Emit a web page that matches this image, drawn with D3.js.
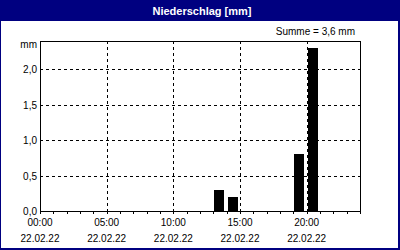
<!DOCTYPE html>
<html>
<head>
<meta charset="utf-8">
<script src="https://cdn.jsdelivr.net/npm/d3@7"></script>
<style>
  html, body { margin: 0; padding: 0; background: #fff; }
  svg { display: block; }
  text { font-family: "Liberation Sans", Arial, sans-serif; font-size: 10px; fill: #000; }
</style>
</head>
<body>
<svg id="chart" width="400" height="250"></svg>
<script>
// Data: hourly precipitation (mm), hour of day when the interval starts
const barHours = [13, 14, 19, 20];
const barValues = [0.3, 0.2, 0.8, 2.3];
const yTicks = [0, 0.5, 1.0, 1.5, 2.0];
const xTicks = [0, 5, 10, 15, 20];
const xTimeLabels = ['00:00', '05:00', '10:00', '15:00', '20:00'];
const xDateLabels = ['22.02.22', '22.02.22', '22.02.22', '22.02.22', '22.02.22'];
const minorTicks = d3.range(0, 25);
const titleText = 'Niederschlag [mm]';
const sumText = 'Summe = 3,6 mm';

const navy = '#000080';
const svg = d3.select('#chart');

// frame + title bar
svg.append('rect').attr('x', 0).attr('y', 0).attr('width', 400).attr('height', 250).attr('fill', '#fff');
svg.append('rect').attr('x', 0).attr('y', 0).attr('width', 400).attr('height', 21).attr('fill', navy);
svg.append('rect').attr('x', 0).attr('y', 0).attr('width', 1).attr('height', 250).attr('fill', navy);
svg.append('rect').attr('x', 398).attr('y', 0).attr('width', 2).attr('height', 250).attr('fill', navy);
svg.append('rect').attr('x', 0).attr('y', 248).attr('width', 400).attr('height', 2).attr('fill', navy);

svg.append('text')
  .attr('x', 202).attr('y', 14.5)
  .attr('text-anchor', 'middle')
  .style('font-weight', 'bold')
  .style('font-size', '11px')
  .style('fill', '#fff')
  .text(titleText);

svg.append('text')
  .attr('x', 355).attr('y', 34.5)
  .attr('text-anchor', 'end')
  .text(sumText);

// scales
const x = d3.scaleLinear().domain([0, 24]).range([40, 360]);
const y = d3.scaleLinear().domain([0, 2.4]).range([211, 41]);

const g = svg.append('g');

// grid
g.selectAll('line.hgrid')
  .data(yTicks.filter(d => d > 0))
  .enter().append('line')
  .attr('x1', x(0)).attr('x2', x(24))
  .attr('y1', d => Math.round(y(d)) + 0.5).attr('y2', d => Math.round(y(d)) + 0.5)
  .attr('stroke', '#000').attr('stroke-dasharray', '3,3');

g.selectAll('line.vgrid')
  .data(xTicks.filter(d => d > 0))
  .enter().append('line')
  .attr('x1', d => Math.round(x(d)) + 0.5).attr('x2', d => Math.round(x(d)) + 0.5)
  .attr('y1', y(2.4)).attr('y2', y(0))
  .attr('stroke', '#000').attr('stroke-dasharray', '3,3');

// bars
g.selectAll('rect.bar')
  .data(barValues)
  .enter().append('rect')
  .attr('x', (d, i) => Math.round(x(barHours[i])) + 1)
  .attr('width', 10)
  .attr('y', d => Math.round(y(d)))
  .attr('height', d => y(0) - Math.round(y(d)))
  .attr('fill', '#000');

// plot frame
g.append('rect')
  .attr('x', x(0) + 0.5).attr('y', y(2.4) + 0.5)
  .attr('width', x(24) - x(0)).attr('height', y(0) - y(2.4))
  .attr('fill', 'none').attr('stroke', '#000');

// minor ticks on x axis
g.selectAll('line.mtick')
  .data(minorTicks)
  .enter().append('line')
  .attr('x1', d => Math.round(x(d)) + 0.5).attr('x2', d => Math.round(x(d)) + 0.5)
  .attr('y1', 211).attr('y2', 214)
  .attr('stroke', '#000');

// y labels
g.selectAll('text.ylab')
  .data(yTicks)
  .enter().append('text')
  .attr('x', 37).attr('y', d => Math.round(y(d)) + 4)
  .attr('text-anchor', 'end')
  .text(d => d3.format('.1f')(d).replace('.', ','));

g.append('text').attr('x', 37).attr('y', 48).attr('text-anchor', 'end').text('mm');

// x labels
g.selectAll('text.xtime')
  .data(xTicks)
  .enter().append('text')
  .attr('x', d => x(d)).attr('y', 226)
  .attr('text-anchor', 'middle')
  .text((d, i) => xTimeLabels[i]);

g.selectAll('text.xdate')
  .data(xTicks)
  .enter().append('text')
  .attr('x', d => x(d)).attr('y', 242)
  .attr('text-anchor', 'middle')
  .text((d, i) => xDateLabels[i]);
</script>
</body>
</html>
